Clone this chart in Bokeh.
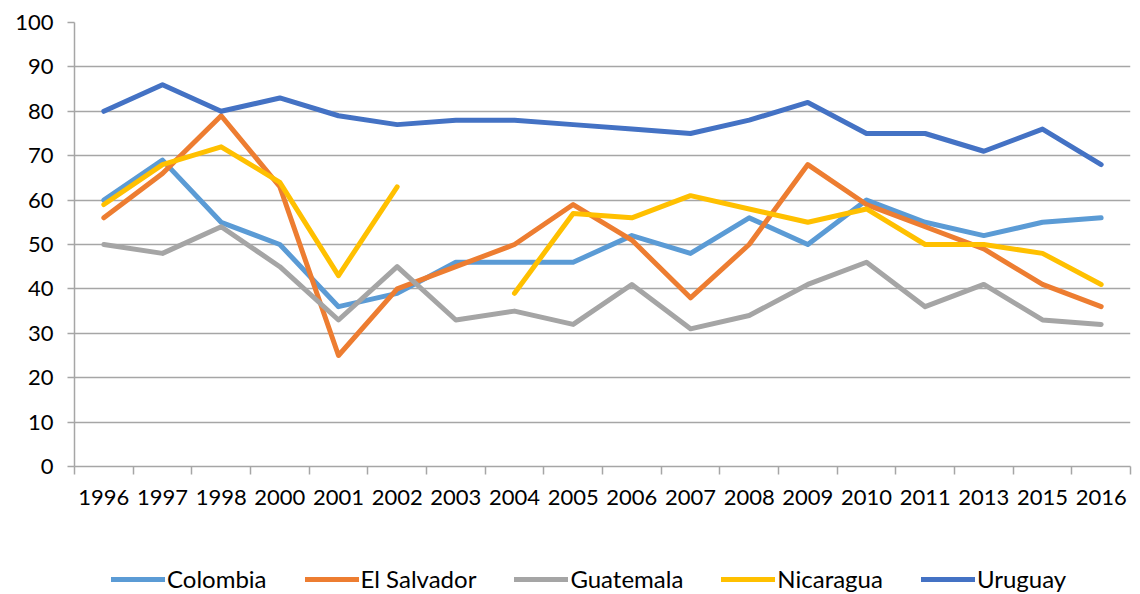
from bokeh.plotting import figure
from bokeh.models import ColumnDataSource, Legend, LegendItem, FixedTicker, Range1d
from bokeh.layouts import column
from bokeh.embed import file_html
from bokeh.resources import INLINE

years = ["1996", "1997", "1998", "2000", "2001", "2002", "2003", "2004", "2005",
         "2006", "2007", "2008", "2009", "2010", "2011", "2013", "2015", "2016"]
colombia = [60, 69, 55, 50, 36, 39, 46, 46, 46, 52, 48, 56, 50, 60, 55, 52, 55, 56]
el_salvador = [56, 66, 79, 63, 25, 40, 45, 50, 59, 51, 38, 50, 68, 59, 54, 49, 41, 36]
guatemala = [50, 48, 54, 45, 33, 45, 33, 35, 32, 41, 31, 34, 41, 46, 36, 41, 33, 32]
nicaragua = [59, 68, 72, 64, 43, 63, float("nan"), 39, 57, 56, 61, 58, 55, 58, 50, 50, 48, 41]
uruguay = [80, 86, 80, 83, 79, 77, 78, 78, 77, 76, 75, 78, 82, 75, 75, 71, 76, 68]
y_ticks = [0, 10, 20, 30, 40, 50, 60, 70, 80, 90, 100]

series = [
    ("Colombia", colombia, "#5B9BD5"),
    ("El Salvador", el_salvador, "#ED7D31"),
    ("Guatemala", guatemala, "#A5A5A5"),
    ("Nicaragua", nicaragua, "#FFC000"),
    ("Uruguay", uruguay, "#4472C4"),
]

FONT = "Lato"
GRID = "#a6a6a6"

xpos = [i + 0.5 for i in range(len(years))]

p = figure(frame_width=1056, frame_height=444, output_backend="svg", toolbar_location=None,
           x_range=Range1d(0, len(years)), y_range=Range1d(0, 100),
           min_border_left=74, min_border_right=2, min_border_top=22, min_border_bottom=50)
p.outline_line_color = None
p.background_fill_color = "white"
p.border_fill_color = "white"

for name, vals, col in series:
    src = ColumnDataSource(dict(x=xpos, y=vals))
    p.line("x", "y", source=src, line_color=col, line_width=5,
           line_cap="round", line_join="round")

# x axis: labels at category centres, tick marks at boundaries
xa = p.xaxis[0]
xa.ticker = FixedTicker(ticks=xpos, minor_ticks=list(range(len(years) + 1)))
xa.major_label_overrides = {x: y for x, y in zip(xpos, years)}
xa.major_tick_out = 0
xa.major_tick_in = 0
xa.minor_tick_out = 8
xa.minor_tick_in = 0
xa.minor_tick_line_color = GRID
xa.minor_tick_line_width = 1.5
xa.axis_line_color = GRID
xa.axis_line_width = 1.5
xa.major_label_standoff = 15
xa.major_label_text_font = FONT
xa.major_label_text_font_size = "22px"
xa.major_label_text_color = "#000000"

ya = p.yaxis[0]
ya.ticker = FixedTicker(ticks=y_ticks)
ya.major_tick_out = 7
ya.major_tick_in = 0
ya.minor_tick_line_color = None
ya.major_tick_line_color = GRID
ya.major_tick_line_width = 1.5
ya.axis_line_color = GRID
ya.axis_line_width = 1.5
ya.major_label_standoff = 14
ya.major_label_text_font = FONT
ya.major_label_text_font_size = "22px"
ya.major_label_text_color = "#000000"

p.xgrid.grid_line_color = None
p.ygrid.grid_line_color = GRID
p.ygrid.grid_line_width = 1.5

# legend strip below the chart (its lines lie outside its visible range)
lf = figure(width=1132, height=78, output_backend="svg", toolbar_location=None,
            x_range=Range1d(-20, -19), y_range=Range1d(0, 1),
            x_axis_location=None, y_axis_location=None,
            min_border_left=0, min_border_right=0, min_border_top=0, min_border_bottom=0)
lf.outline_line_color = None
lf.xgrid.grid_line_color = None
lf.ygrid.grid_line_color = None
lf.border_fill_color = "white"

items = []
for name, vals, col in series:
    r = lf.line("x", "y", source=ColumnDataSource(dict(x=xpos, y=vals)), line_color=col,
                line_width=5, line_cap="round")
    items.append(LegendItem(label=name, renderers=[r]))

legend = Legend(items=items, orientation="horizontal", location=(37, 1),
                label_text_font=FONT, label_text_font_size="24px", label_text_color="#000000",
                glyph_width=54, glyph_height=22, label_height=22, label_standoff=2, spacing=38,
                padding=0, margin=0, border_line_color=None, background_fill_alpha=0)
lf.add_layout(legend, "center")

layout = column(p, lf, spacing=0)
open("out.html", "w").write(file_html(layout, INLINE))
